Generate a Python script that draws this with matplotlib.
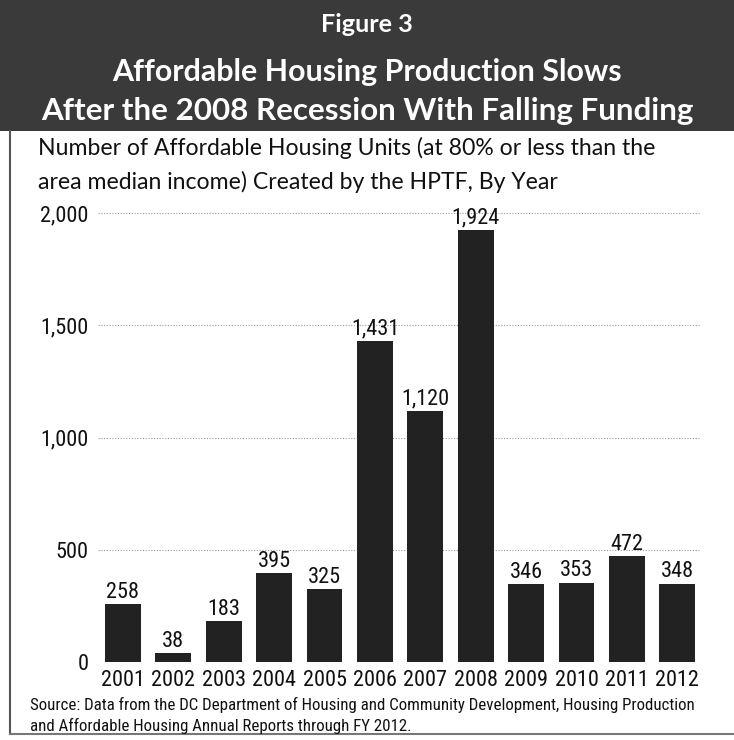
import matplotlib.pyplot as plt
from matplotlib.patches import Rectangle
from matplotlib.lines import Line2D
from matplotlib import font_manager
from matplotlib.font_manager import FontProperties

years = ['2001', '2002', '2003', '2004', '2005', '2006',
         '2007', '2008', '2009', '2010', '2011', '2012']
units = [258, 38, 183, 395, 325, 1431, 1120, 1924, 346, 353, 472, 348]
y_ticks = [0, 500, 1000, 1500, 2000]
y_tick_labels = ['0', '500', '1,000', '1,500', '2,000']

title_lines = ['Figure 3',
               'Affordable Housing Production Slows',
               'After the 2008 Recession With Falling Funding']
subtitle_lines = ['Number of Affordable Housing Units (at 80% or less than the',
                  'area median income) Created by the HPTF, By Year']
source_lines = ['Source: Data from the DC Department of Housing and Community Development, Housing Production',
                'and Affordable Housing Annual Reports through FY 2012.']


def find_condensed():
    # look for any narrow sans face installed, else fall back to Lato
    prefs = ['Roboto', 'Open Sans', 'Noto Sans', 'Liberation', 'DejaVu', 'Lato', 'Inter']
    found = []
    for f in font_manager.fontManager.ttflist:
        tag = (f.name + ' ' + f.fname + ' ' + str(f.stretch)).lower()
        if ('condensed' in tag or 'narrow' in tag) and f.style == 'normal' \
                and f.weight in (400, 'normal', 'regular', 'book'):
            if 'extra' in tag or 'ultra' in tag:
                continue
            found.append(f)
    for p in prefs:
        for f in found:
            if p.lower() in f.name.lower():
                return FontProperties(fname=f.fname)
    if found:
        return FontProperties(fname=found[0].fname)
    return FontProperties(family='Lato')


narrow = find_condensed()
regular = FontProperties(family='Lato')
bold = FontProperties(family='Lato', weight='bold')

fig = plt.figure(figsize=(7.34, 7.40), dpi=100)
fig.patch.set_facecolor('white')
renderer = fig.canvas.get_renderer()


def fy(px):
    return 1 - px / 740


def fit(t, width_px):
    w = t.get_window_extent(renderer).width
    t.set_fontsize(t.get_fontsize() * width_px / w)


# dark title banner
fig.patches.append(Rectangle((0, fy(131)), 1, 131 / 740, transform=fig.transFigure,
                             facecolor='#3a3a3a', edgecolor='none', zorder=0))
# left and bottom rules of the chart box
fig.lines.append(Line2D([10 / 734, 10 / 734], [fy(131), fy(734)], transform=fig.transFigure,
                        color='#555555', linewidth=1.5))
fig.lines.append(Line2D([10 / 734, 1], [fy(734), fy(734)], transform=fig.transFigure,
                        color='#777777', linewidth=1.5))

title_y = [25, 72, 111]
title_w = [92, 510, 654]
for txt, y, w in zip(title_lines, title_y, title_w):
    t = fig.text(0.5, fy(y), txt, color='white', ha='center', va='center',
                 fontproperties=bold, fontsize=20)
    fit(t, w)

sub1 = fig.text(38 / 734, fy(148), subtitle_lines[0], ha='left', va='center',
                fontproperties=regular, fontsize=17, color='#111111')
fit(sub1, 617)
sub2 = fig.text(38 / 734, fy(182), subtitle_lines[1], ha='left', va='center',
                fontproperties=regular, fontsize=sub1.get_fontsize(), color='#111111')

ax = fig.add_axes([98 / 734, fy(662), 602 / 734, 449 / 740])
x = list(range(len(years)))
ax.bar(x, units, width=0.71, color='#222222', zorder=3)
for xi, v in zip(x, units):
    ax.annotate(f'{v:,}', (xi, v), xytext=(0, 1), textcoords='offset points',
                ha='center', va='bottom', fontproperties=narrow, fontsize=16,
                color='#111111', annotation_clip=False)

ax.set_xlim(-0.496, 11.45)
ax.set_ylim(0, 2000)
ax.set_yticks(y_ticks)
ax.set_yticklabels(y_tick_labels)
ax.set_xticks(x)
ax.set_xticklabels(years)
for lab in ax.get_xticklabels() + ax.get_yticklabels():
    lab.set_fontproperties(narrow)
    lab.set_fontsize(16)
    lab.set_color('#111111')
ax.tick_params(length=0)
ax.tick_params(axis='x', pad=6)
ax.tick_params(axis='y', pad=7)
for spine in ax.spines.values():
    spine.set_visible(False)
ax.grid(axis='y', linestyle=(0, (1, 1.5)), color='#999999', linewidth=0.8, zorder=0)
ax.set_axisbelow(True)

src1 = fig.text(30 / 734, fy(705), source_lines[0], ha='left', va='center',
                fontproperties=narrow, fontsize=11, color='#111111')
fit(src1, 663)
fig.text(30 / 734, fy(726), source_lines[1], ha='left', va='center',
         fontproperties=narrow, fontsize=src1.get_fontsize(), color='#111111')

fig.savefig('out.png', dpi=100, facecolor='white')
